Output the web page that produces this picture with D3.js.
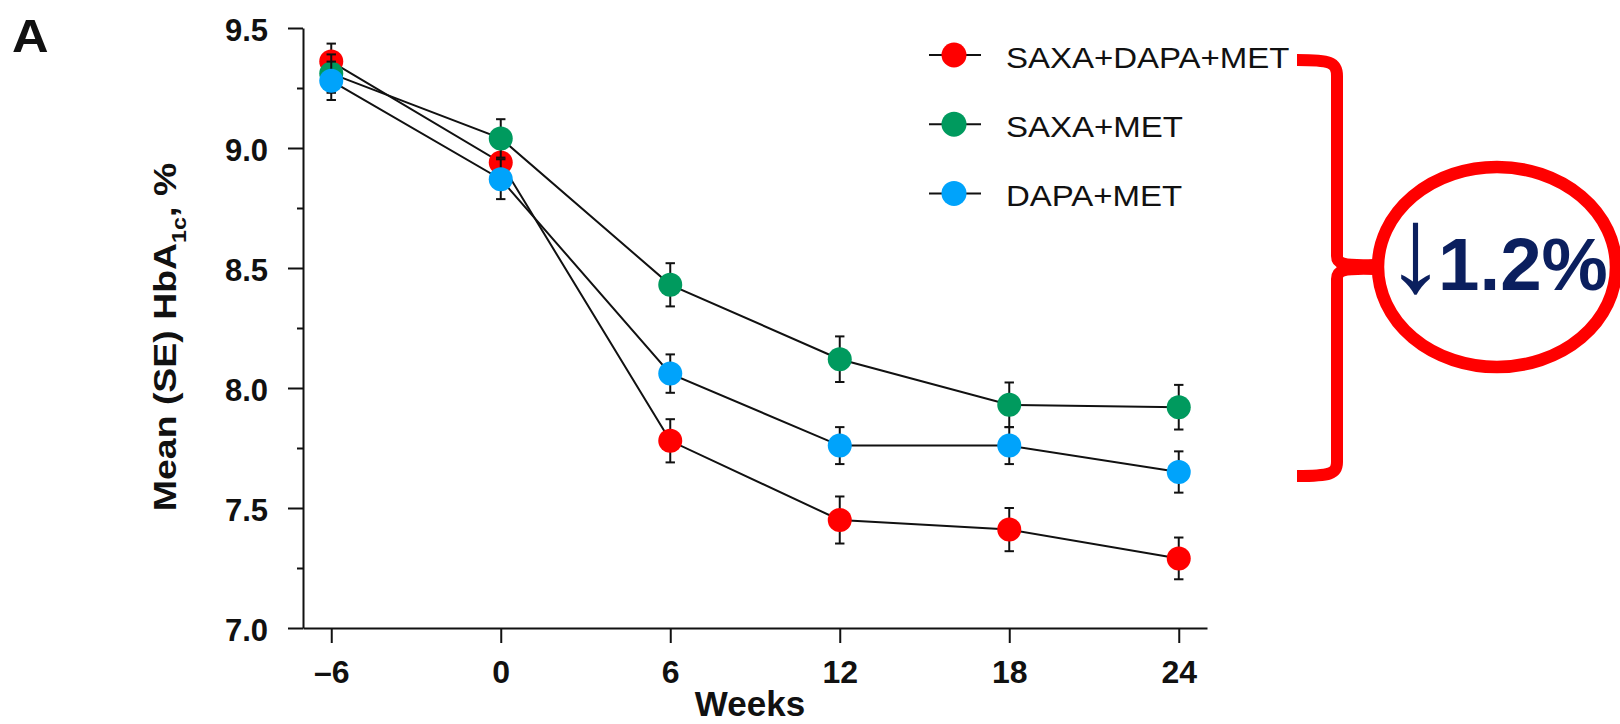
<!DOCTYPE html>
<html>
<head>
<meta charset="utf-8">
<script src="https://cdn.jsdelivr.net/npm/d3@7"></script>
<style>
  html, body { margin: 0; padding: 0; background: #fff; }
  svg { display: block; }
  text { font-family: "Liberation Sans", Arial, sans-serif; fill: #111; }
</style>
</head>
<body>
<svg id="chart" width="1620" height="724"></svg>
<script>
// HbA1c over time by treatment arm (mean ± SE)
const weeks = [-6, 0, 6, 12, 18, 24];
const seriesNames = ["SAXA+DAPA+MET", "SAXA+MET", "DAPA+MET"];
const seriesColors = ["#ff0000", "#009a5e", "#00a3fb"];
const saxaDapaMet = [9.36, 8.94, 7.78, 7.45, 7.41, 7.29];
const saxaMet     = [9.31, 9.04, 8.43, 8.12, 7.93, 7.92];
const dapaMet     = [9.28, 8.87, 8.06, 7.76, 7.76, 7.65];
const saxaDapaMetSE = [0.075, 0.08, 0.09, 0.098, 0.09, 0.087];
const saxaMetSE     = [0.08, 0.08, 0.09, 0.095, 0.093, 0.093];
const dapaMetSE     = [0.08, 0.083, 0.08, 0.077, 0.077, 0.086];
const yTicks = [7.0, 7.5, 8.0, 8.5, 9.0, 9.5];
const yMinorTicks = [7.25, 7.75, 8.25, 8.75, 9.25];
const reductionLabel = "1.2%";

const series = [
  { name: seriesNames[0], color: seriesColors[0], values: saxaDapaMet, se: saxaDapaMetSE },
  { name: seriesNames[1], color: seriesColors[1], values: saxaMet, se: saxaMetSE },
  { name: seriesNames[2], color: seriesColors[2], values: dapaMet, se: dapaMetSE }
];

const svg = d3.select("#chart");
const FONT = '"Liberation Sans", Arial, sans-serif';

const x = d3.scaleLinear().domain([-7, 25]).range([303, 1207]);
const y = d3.scaleLinear().domain([7, 9.5]).range([628, 28]);

// Panel letter
svg.append("text")
  .attr("transform", "translate(12,52) scale(1.1,1)")
  .style("font-size", "46px").style("font-weight", "bold")
  .text("A");

// Y axis (major + minor ticks)
const yAxisG = svg.append("g")
  .attr("transform", `translate(${x.range()[0]},0)`)
  .attr("color", "#111")
  .call(d3.axisLeft(y).tickValues(yTicks).tickSize(15).tickSizeOuter(0).tickFormat(d3.format(".1f")));
yAxisG.selectAll("path, line").attr("stroke-width", 2);
yAxisG.selectAll(".tick text")
  .attr("x", -35).attr("y", 12.5).attr("dy", null)
  .attr("text-anchor", "end")
  .style("font-family", FONT).style("font-size", "31px").style("font-weight", "bold")
  .attr("fill", "#111");

const yMinorG = svg.append("g")
  .attr("transform", `translate(${x.range()[0]},0)`)
  .attr("color", "#111")
  .call(d3.axisLeft(y).tickValues(yMinorTicks).tickSize(6).tickFormat(""));
yMinorG.select(".domain").remove();
yMinorG.selectAll("line").attr("stroke-width", 2);

// X axis
const xAxisG = svg.append("g")
  .attr("transform", `translate(0,${y.range()[0]})`)
  .attr("color", "#111")
  .call(d3.axisBottom(x).tickValues(weeks).tickSize(15).tickSizeOuter(0)
    .tickFormat(d => d < 0 ? "\u2013" + Math.abs(d) : String(d)));
xAxisG.selectAll("path, line").attr("stroke-width", 2);
xAxisG.selectAll(".tick text")
  .attr("y", 55).attr("dy", null)
  .attr("text-anchor", "middle")
  .style("font-family", FONT).style("font-size", "32px").style("font-weight", "bold")
  .attr("fill", "#111");

// Axis titles
svg.append("text")
  .attr("x", 750).attr("y", 716)
  .attr("text-anchor", "middle")
  .style("font-size", "35px").style("font-weight", "bold")
  .text("Weeks");

const yTitle = svg.append("text")
  .attr("text-anchor", "middle")
  .attr("transform", "translate(176,337) rotate(-90) scale(1.17,1)")
  .style("font-size", "32px").style("font-weight", "bold");
yTitle.append("tspan").text("Mean (SE) HbA");
yTitle.append("tspan").attr("dy", 10).style("font-size", "20px").text("1c");
yTitle.append("tspan").attr("dy", -10).text(", %");

// Connecting lines
const line = d3.line().x((d, i) => x(weeks[i])).y(d => d);
const plot = svg.append("g");
series.forEach(s => {
  plot.append("path")
    .attr("d", line(s.values.map(v => y(v))))
    .attr("fill", "none").attr("stroke", "#111").attr("stroke-width", 2);
});

// Error bars and markers, one series at a time
series.forEach(s => {
  const g = plot.append("g");
  const pts = weeks.map((w, i) => ({ w, v: s.values[i], se: s.se[i] }));
  const eb = g.selectAll(".eb").data(pts).enter().append("g").attr("class", "eb")
    .attr("stroke", "#111").attr("stroke-width", 2);
  eb.append("line")
    .attr("x1", d => x(d.w)).attr("x2", d => x(d.w))
    .attr("y1", d => y(d.v + d.se)).attr("y2", d => y(d.v - d.se));
  eb.append("line")
    .attr("x1", d => x(d.w) - 4.7).attr("x2", d => x(d.w) + 4.7)
    .attr("y1", d => y(d.v + d.se)).attr("y2", d => y(d.v + d.se));
  eb.append("line")
    .attr("x1", d => x(d.w) - 4.7).attr("x2", d => x(d.w) + 4.7)
    .attr("y1", d => y(d.v - d.se)).attr("y2", d => y(d.v - d.se));
  g.selectAll("circle").data(pts).enter().append("circle")
    .attr("cx", d => x(d.w)).attr("cy", d => y(d.v))
    .attr("r", 12).attr("fill", s.color);
});

// Legend
const legend = svg.append("g").attr("transform", "translate(954,55)");
series.forEach((s, i) => {
  const row = legend.append("g").attr("transform", `translate(0,${i * 69.2})`);
  row.append("line").attr("x1", -25).attr("x2", 27).attr("y1", 0).attr("y2", 0)
    .attr("stroke", "#111").attr("stroke-width", 2);
  row.append("circle").attr("r", 12.5).attr("fill", s.color);
  row.append("text")
    .attr("transform", "translate(52,12.5) scale(1.1,1)")
    .style("font-size", "30px")
    .text(s.name);
});

// Bracket grouping the three arms, with the reduction callout
const callout = svg.append("g");
callout.append("path")
  .attr("d", "M1297,60 C1330,60 1337,62 1337,76 L1337,256 C1337,263 1341,266 1374,265")
  .attr("fill", "none").attr("stroke", "#ff0000").attr("stroke-width", 12);
callout.append("path")
  .attr("d", "M1374,269 C1341,268 1337,271 1337,279 L1337,462 C1337,474 1330,476 1297,476")
  .attr("fill", "none").attr("stroke", "#ff0000").attr("stroke-width", 12);
callout.append("ellipse")
  .attr("cx", 1497).attr("cy", 267).attr("rx", 119).attr("ry", 100)
  .attr("fill", "none").attr("stroke", "#ff0000").attr("stroke-width", 12.5);
const calloutText = callout.append("text")
  .attr("y", 291)
  .style("fill", "#0b1f5e");
calloutText.append("tspan")
  .attr("x", 1385)
  .style("font-size", "122px").style("fill", "#0b1f5e")
  .text("\u2193");
calloutText.append("tspan")
  .attr("x", 1438).attr("dy", -1)
  .style("font-size", "74.5px").style("font-weight", "bold").style("fill", "#0b1f5e")
  .text(reductionLabel);
</script>
</body>
</html>
